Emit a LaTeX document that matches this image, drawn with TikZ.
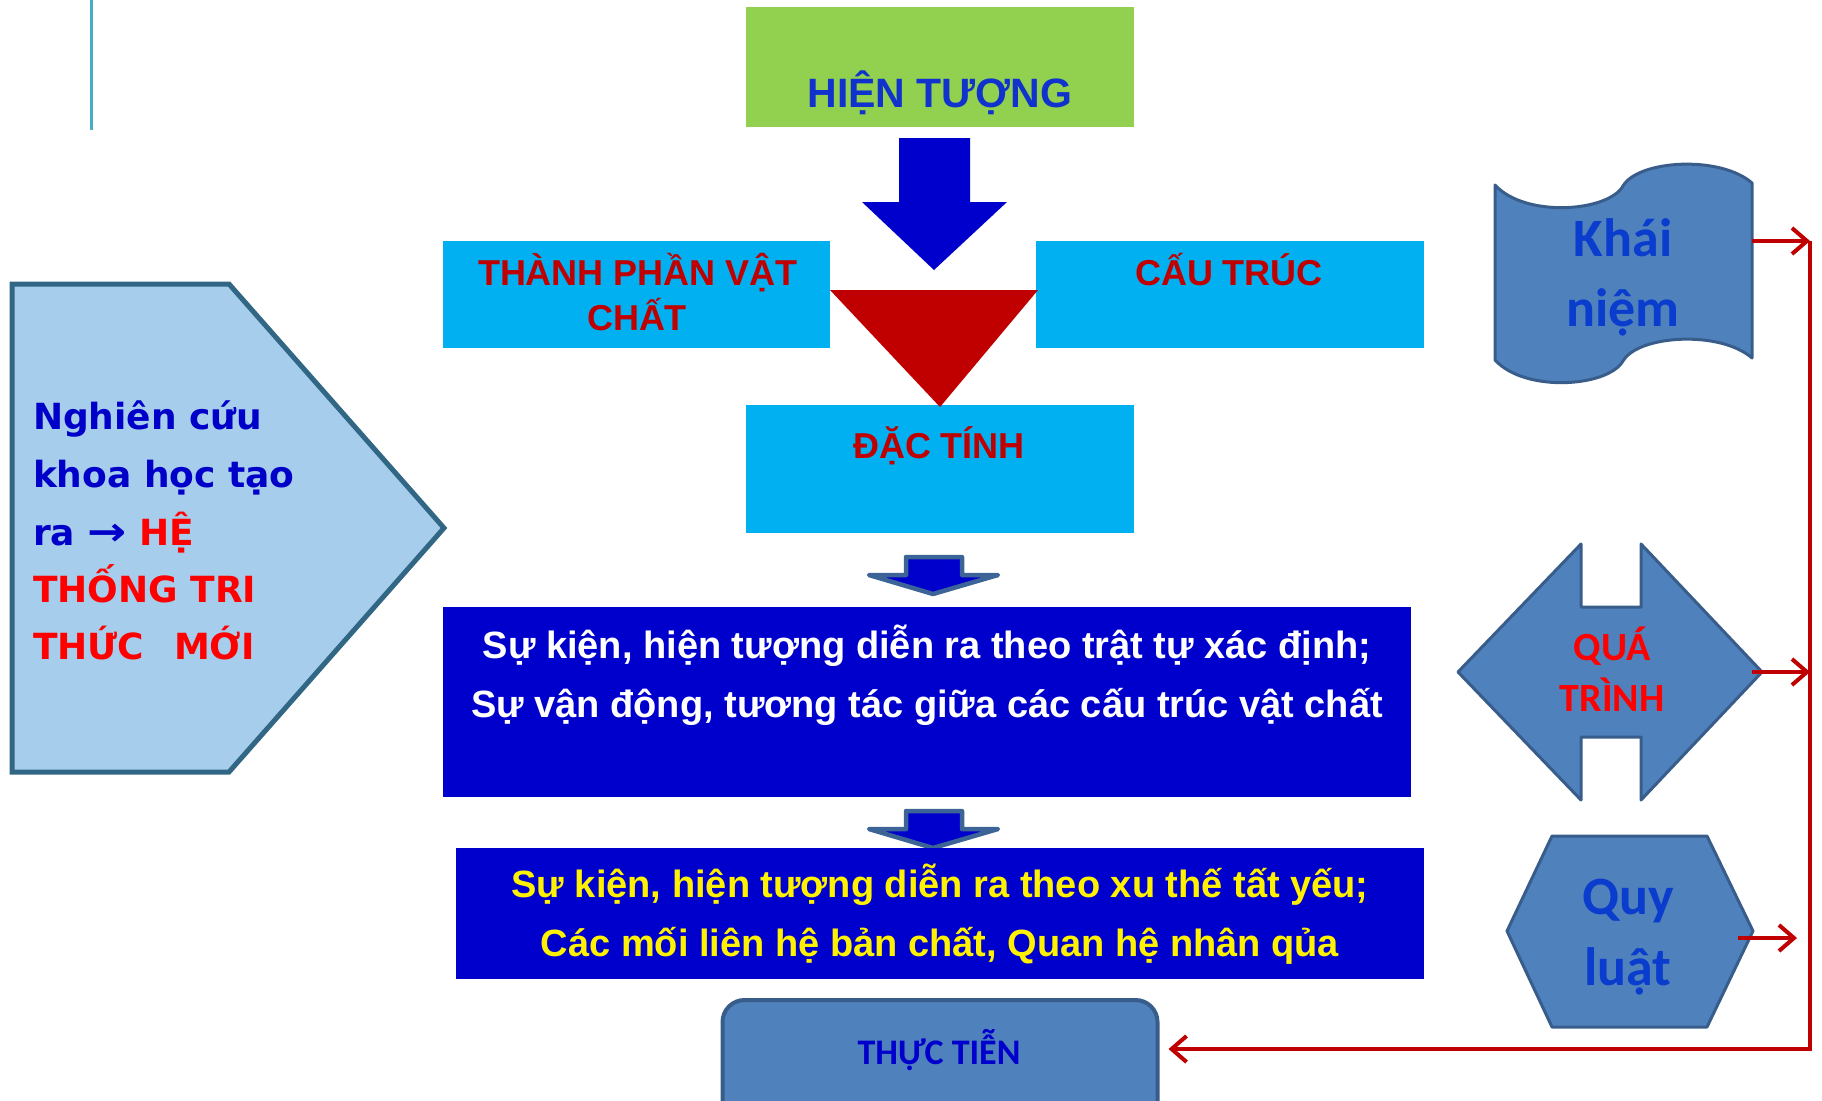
\documentclass[tikz,border=0pt]{standalone}
\usepackage{fontspec}
\setmainfont{Liberation Sans}
\newfontfamily\dvfont{DejaVu Sans}
\newfontfamily\calfont{Carlito}
\usetikzlibrary{arrows.meta}
\definecolor{cgreen}{RGB}{146,208,80}
\definecolor{ccyan}{RGB}{0,176,240}
\definecolor{cdblue}{RGB}{0,0,204}
\definecolor{cred}{RGB}{192,0,0}
\definecolor{ctitle}{RGB}{16,50,205}
\definecolor{cpentfill}{RGB}{166,206,236}
\definecolor{cpentdraw}{RGB}{49,102,133}
\definecolor{cleftblue}{RGB}{0,0,200}
\definecolor{cbright}{RGB}{255,0,0}
\definecolor{cshape}{RGB}{79,129,189}
\definecolor{cshapedraw}{RGB}{56,93,138}
\definecolor{cshapetext}{RGB}{10,60,205}
\definecolor{carrowedge}{RGB}{60,100,150}
\definecolor{cteal}{RGB}{75,172,198}
\begin{document}
\begin{tikzpicture}[x=1pt,y=-1pt,
  boxnode/.style={inner sep=0pt,outer sep=0pt,draw=none},
  txt/.style={inner sep=0pt,outer sep=0pt,anchor=base},
  redtxt/.style={txt,text=cred,font=\bfseries\fontsize{36}{43}\selectfont},
  whitetxt/.style={txt,text=white,font=\bfseries\fontsize{38}{46}\selectfont},
  yellowtxt/.style={txt,text=yellow,font=\bfseries\fontsize{38}{46}\selectfont},
  lefttxt/.style={txt,anchor=base west,font=\dvfont\bfseries\fontsize{36}{43}\selectfont},
  bigshapetxt/.style={txt,text=cshapetext,font=\calfont\bfseries\fontsize{54}{60}\selectfont},
  shapestyle/.style={fill=cshape,draw=cshapedraw,line width=3pt,line join=round},
  smallarrow/.style={fill=cdblue,draw=carrowedge,line width=4.5pt,line join=round},
  redline/.style={draw=cred,line width=4pt},
  redarrow/.style={redline,-{Straight Barb[length=15pt,width=26pt]}}
]
\useasboundingbox (0,0) rectangle (1822,1100);
\clip (0,0) rectangle (1822,1100);

% teal rule
\draw[cteal,line width=3pt] (91,0) -- (91,130);

% left pentagon
\draw[fill=cpentfill,draw=cpentdraw,line width=5pt,line join=miter]
  (12,284) -- (229,284) -- (444,528) -- (229,772) -- (12,772) -- cycle;
\node[lefttxt,text=cleftblue] (l1) at (33,429) {Nghiên cứu};
\node[lefttxt,text=cleftblue] (l2) at (33,487) {khoa học tạo};
\node[lefttxt] (l3) at (33,545) {\textcolor{cleftblue}{ra \scalebox{1.3}[1.1]{→}} \textcolor{cbright}{HỆ}};
\node[lefttxt,text=cbright] (l4) at (33,602) {THỐNG TRI};
\node[lefttxt,text=cbright] (l5) at (33,659) {THỨC\hspace{30pt}MỚI};

% HIEN TUONG
\node[boxnode,fill=cgreen,minimum width=388pt,minimum height=120pt] (ht) at (940,67) {};
\node[txt,text=ctitle,font=\bfseries\fontsize{41}{48}\selectfont] (htt) at (940,107) {HIỆN TƯỢNG};

% big blue arrow
\fill[cdblue] (899,138) -- (970,138) -- (970,202) -- (1007,202) -- (934,270) -- (862,202) -- (899,202) -- cycle;

% cyan boxes
\node[boxnode,fill=ccyan,minimum width=387pt,minimum height=107pt] (tp) at (636.5,294.5) {};
\node[redtxt] (tpt1) at (638,285) {THÀNH PHẦN VẬT};
\node[redtxt] (tpt2) at (637,330) {CHẤT};
\node[boxnode,fill=ccyan,minimum width=388pt,minimum height=107pt] (ct) at (1230,294.5) {};
\node[redtxt] (ctt) at (1229,285) {CẤU TRÚC};
\node[boxnode,fill=ccyan,minimum width=388pt,minimum height=128pt] (dt) at (940,469) {};
\node[redtxt] (dtt) at (939,458) {ĐẶC TÍNH};

% red triangle
\fill[cred] (830,290) -- (1038,290) -- (940,407) -- cycle;

% small arrow 1
\draw[smallarrow] (906,557) -- (962,557) -- (962,575) -- (998,575) -- (933,594) -- (869,575) -- (906,575) -- cycle;

% blue box 1
\node[boxnode,fill=cdblue,minimum width=968pt,minimum height=190pt] (b1) at (927,702) {};
\node[whitetxt] (b1t1) at (927,658) {Sự kiện, hiện tượng diễn ra theo trật tự xác định;};
\node[whitetxt] (b1t2) at (927,717) {Sự vận động, tương tác giữa các cấu trúc vật chất};

% small arrow 2
\draw[smallarrow] (906,811) -- (962,811) -- (962,829) -- (998,829) -- (933,848) -- (869,829) -- (906,829) -- cycle;

% blue box 2
\node[boxnode,fill=cdblue,minimum width=968pt,minimum height=131pt] (b2) at (940,913.5) {};
\node[yellowtxt] (b2t1) at (940,897) {Sự kiện, hiện tượng diễn ra theo xu thế tất yếu;};
\node[yellowtxt] (b2t2) at (940,956) {Các mối liên hệ bản chất, Quan hệ nhân qủa};

% THUC TIEN
\node[boxnode,shapestyle,line width=4pt,rounded corners=22pt,minimum width=435pt,minimum height=150pt] (tt) at (940,1075) {};
\node[txt,text=cdblue,font=\calfont\bfseries\fontsize{36}{43}\selectfont] (ttt) at (939,1064) {THỰC TIỄN};

% Khai niem (wave)
\draw[shapestyle] (1495,185) .. controls (1525,218) and (1608,212) .. (1623,186)
  .. controls (1638,160) and (1720,155) .. (1752,183) -- (1752,358)
  .. controls (1720,330) and (1638,335) .. (1623,361)
  .. controls (1608,387) and (1525,393) .. (1495,360) -- cycle;
\node[bigshapetxt] (kn1) at (1623,256) {Khái};
\node[bigshapetxt] (kn2) at (1623,326) {niệm};

% QUA TRINH (notched double arrow)
\draw[shapestyle] (1458,672) -- (1581,544) -- (1581,607) -- (1641,607) -- (1641,544) -- (1762,672)
  -- (1641,800) -- (1641,737) -- (1581,737) -- (1581,800) -- cycle;
\node[txt,text=cbright,font=\calfont\bfseries\fontsize{40}{46}\selectfont] (qt1) at (1612,660) {QUÁ};
\node[txt,text=cbright,font=\calfont\bfseries\fontsize{40}{46}\selectfont] (qt2) at (1612,711) {TRÌNH};

% Quy luat (hexagon)
\draw[shapestyle] (1552,836) -- (1707,836) -- (1753,931) -- (1707,1027) -- (1552,1027) -- (1507,931) -- cycle;
\node[bigshapetxt] (ql1) at (1628,914) {Quy};
\node[bigshapetxt] (ql2) at (1628,985) {luật};

% red connectors
\coordinate (kn-out) at (1752,241);
\coordinate (rt) at (1810,241);
\coordinate (rb) at (1810,1049);
\coordinate (qt-out) at (1752,672);
\coordinate (ql-out) at (1738,938);
\coordinate (ql-end) at (1797,938);
\draw[redarrow] (kn-out) -- (rt);
\draw[redarrow] (qt-out) -- (qt-out -| rt);
\draw[redarrow] (ql-out) -- (ql-end);
\draw[redarrow,line join=miter] (rt) -- (rb) -- ([xshift=11pt]tt.east |- rb);
\end{tikzpicture}
\end{document}
